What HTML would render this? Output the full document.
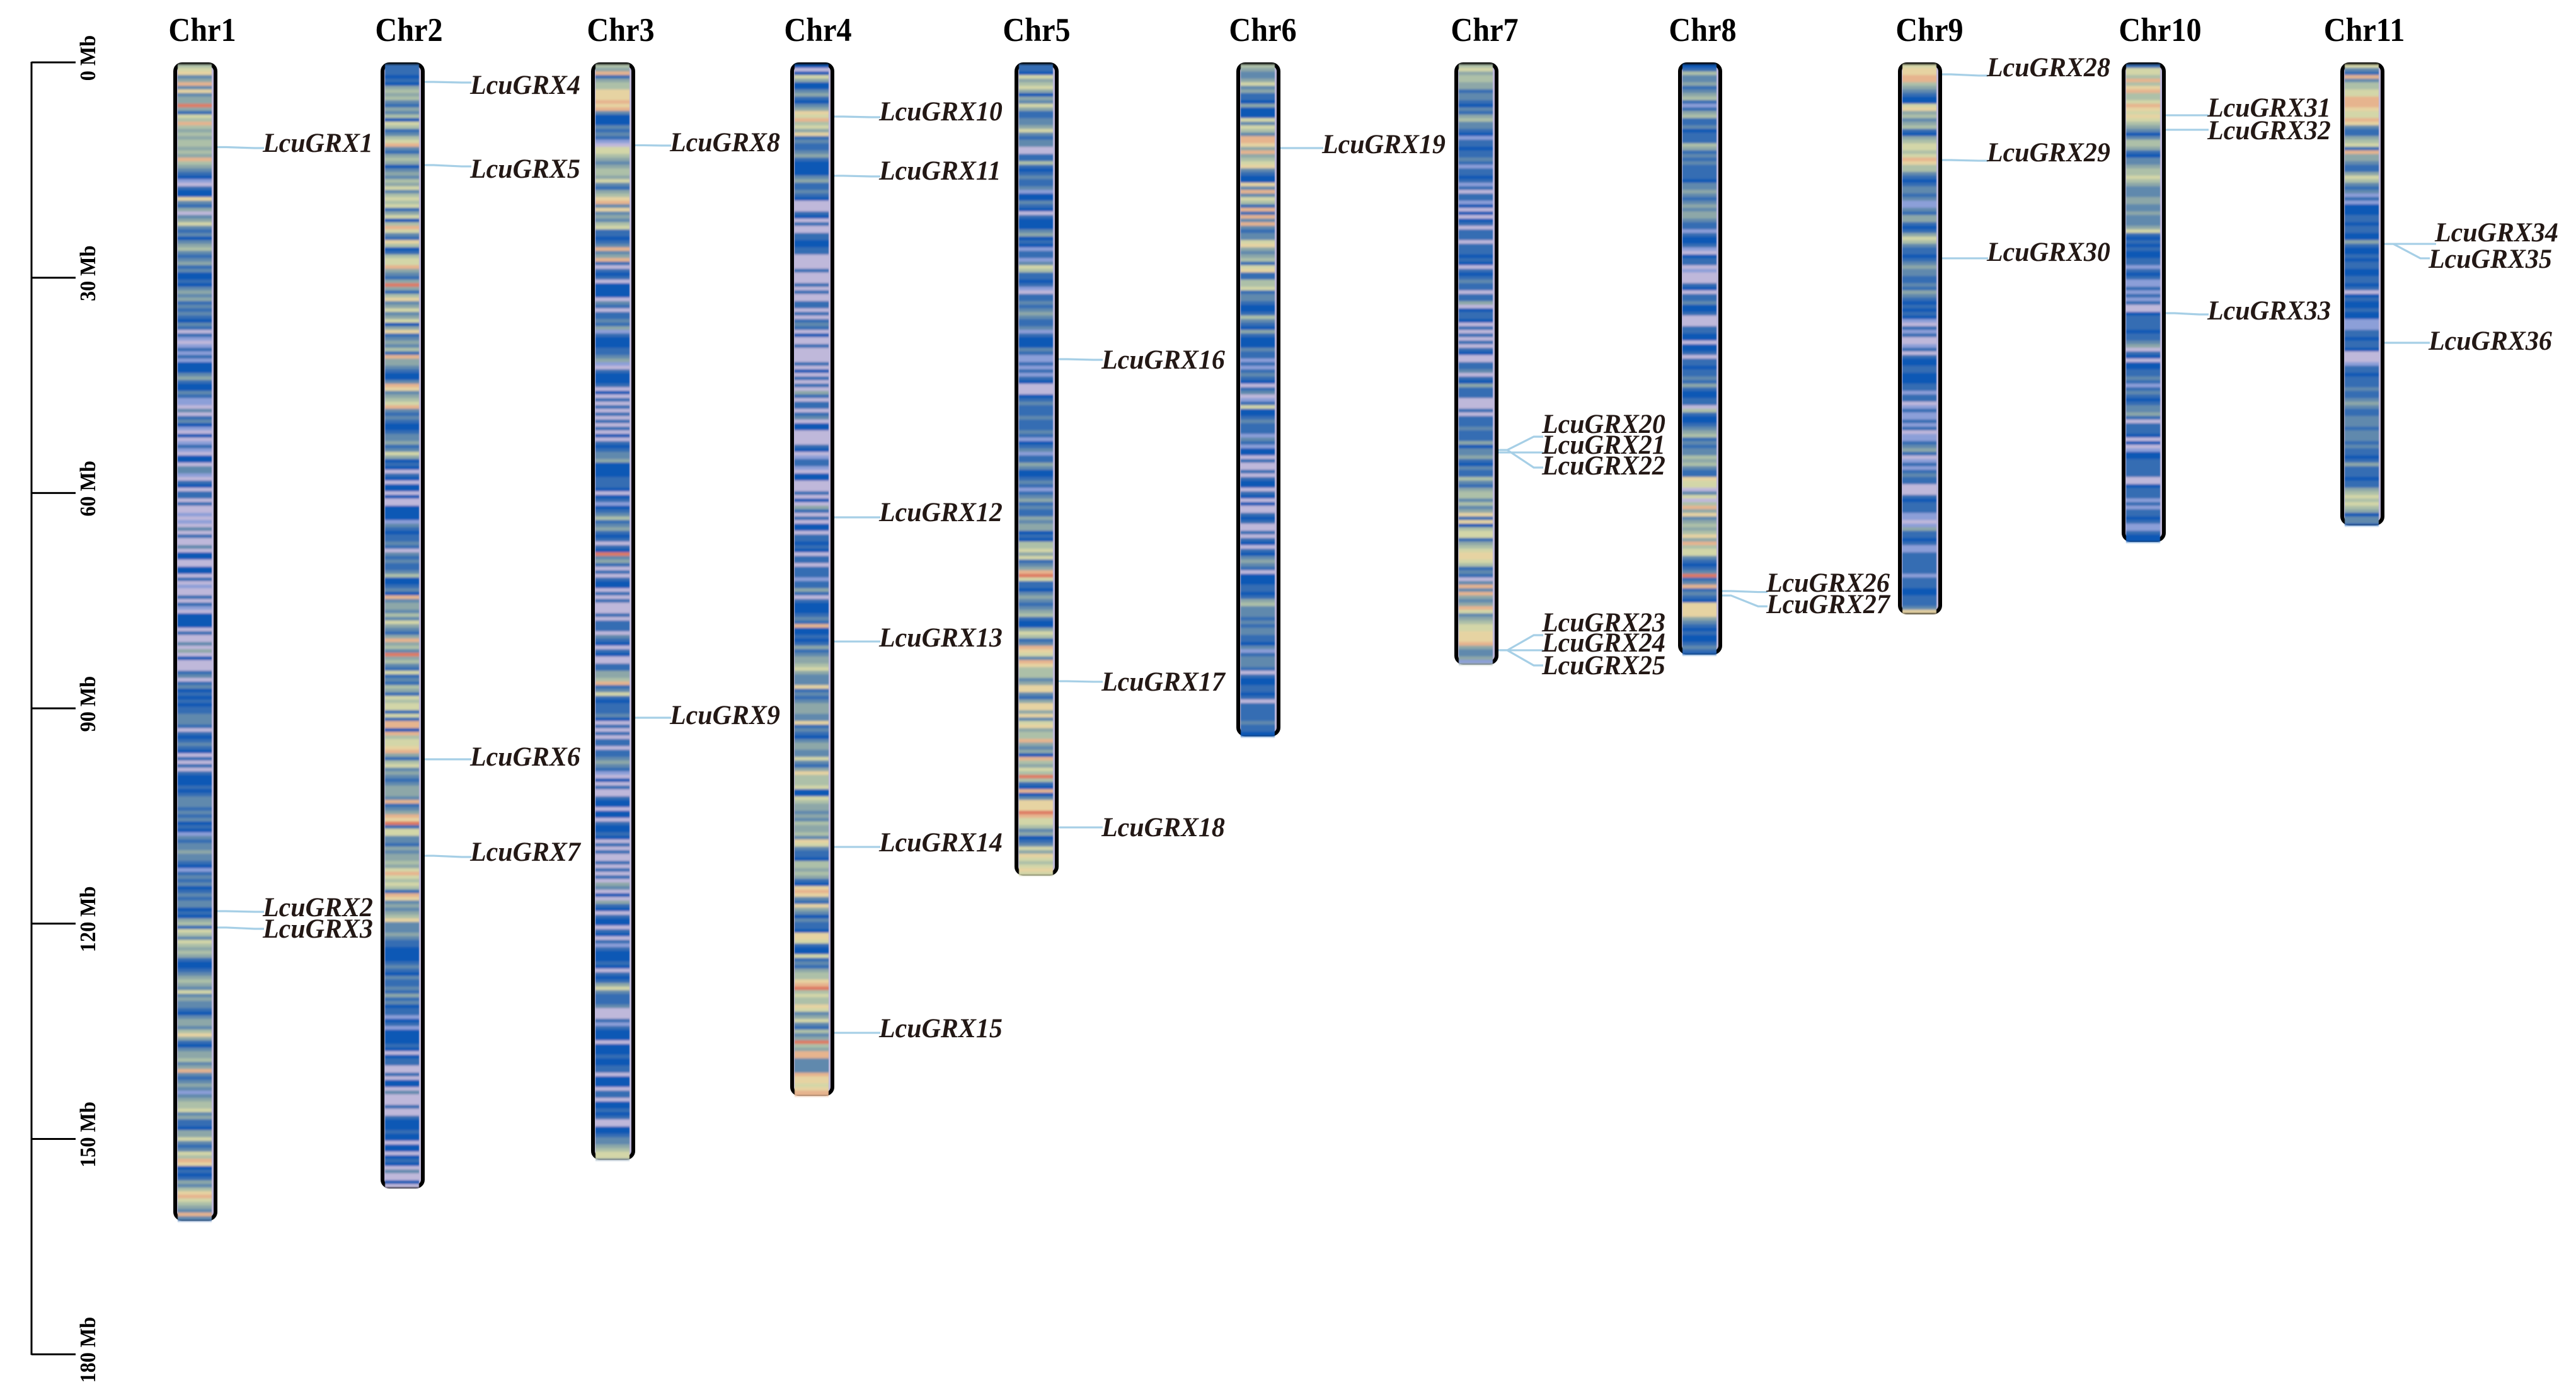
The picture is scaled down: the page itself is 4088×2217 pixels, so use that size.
<!DOCTYPE html>
<html lang="en">
<head>
<meta charset="utf-8">
<title>LcuGRX chromosome map</title>
<style>
html,body{margin:0;padding:0;background:#fff;}
#map{display:block;width:4088px;height:2217px;}
text{font-family:"Liberation Serif",serif;}
.chr-title{font-weight:700;font-size:53px;fill:#000;text-anchor:middle;}
.tick-label{font-weight:700;font-size:35px;fill:#000;text-anchor:middle;}
.gene-label{font-weight:700;font-style:italic;font-size:43.5px;fill:#231815;}
.gene-line{fill:none;stroke:#a6cfe6;stroke-width:3.2;}
</style>
</head>
<body>
<svg id="map" xmlns="http://www.w3.org/2000/svg" width="4088" height="2217" viewBox="0 0 4088 2217">
<defs>
<filter id="soft" x="-2%" y="-1%" width="104%" height="102%"><feGaussianBlur stdDeviation="0.4 1.5"/></filter>
</defs>
</svg>
<script>
// Scale ticks (Mb)
const tickValues = [0, 30, 60, 90, 120, 150, 180];
const tickLabels = ["0 Mb", "30 Mb", "60 Mb", "90 Mb", "120 Mb", "150 Mb", "180 Mb"];

// Chromosomes
const chrNames = ["Chr1","Chr2","Chr3","Chr4","Chr5","Chr6","Chr7","Chr8","Chr9","Chr10","Chr11"];
const chrLengthsMb = [161.4,156.9,152.9,144.0,113.3,93.9,83.9,82.5,76.9,66.8,64.5];

// Density class per 0.5 Mb window (one string = 10 Mb). 0 = none ... a = highest
const densityBinMb = 0.5;
const densityColors = ["#bfb8da","#8c9fd8","#1059b5","#346db3","#6089ad","#8dA7a8","#adc0a8","#d3d6a8","#e6d3a2","#e6b48e","#de7a64"];
const chr1Density = ["67845948455a53769656","56656596543210322843","50457434245643453422","32454534343243031013","13122245322431104034","21020131022044103203","30300101040300402200","22030100303102222030","04050200034034232323","34443032343203030322","23234443434232143445","44321343423434423256","37647656532234565474","54432455468532455645","94345414566745332557","43476982323546897654","943"];
const chr2Density = ["33323256564354627634","67943565245465746767","35726974386236779543","5a536845745725834546","39554322498456794343","22344534752320320220","20022221432334304343","34622342945546475435","9564a564373436537677","37399296778953674543","45554934598a37744354","55657976763984545684","44543322223432433435","34233123122223202330","03022040003003222322","0220232040020"];
const chr3Density = ["65935668889894222434","31077654566574356894","84546733234945930323","02222043033435132223","34510322230203030303","03020323445222233320","2312346345323032a453","03032203030003033304","32032003355693473233","34203030330334543102","03003220220322320303","00303030540205320322","03203132223203235743","33400031322202223223","30222033022323002234","456774"];
const chr4Density = ["20275224532458796758","34334532222453343200","03203003322330000300","03030033030343020030","00030203030530330340","22000032013310220003","02053030220332320330","33313353032223439223","23534556754448343455","54483432455447435866","67227655454655648743","32665653289843854243","32887322734356689a67","668745743645a6599444","49887899"];
const chr5Density = ["33275675254753344574","34400336323433412243","20322245232133147633","23103343454334132224","31131313200023433343","33431234133542234313","45343354552326675734","59a73324543456322576","34987498666458843588","584785669545296576a6","32924888a97764523475","876787"];
const chr6Density = ["65445745332522274764","99859567843228494763","93949434478545637833","66734432236432532224","33131343203401372234","33314312203003032203","20200323003032032454","30222332356444343443","32413444303223323033","33343322"];
const chr7Density = ["67566553443243564432","13323343133231303312","02023033303332320323","43303350233203030303","20033403253330003033","34333524453243364356","64645838267735678876","34304949545974567788","89544516"];
const chr8Density = ["23644534563135633423","33653434333324454345","45543313223102330100","03203342230003322022","30332334353223306322","34563434465643387704","70695845656859677432","34a34934328888543232","23432"];
const chr9Density = ["78899654322785645632","56776798664323443411","43553235764332345443","34354323232103130013","03223322233133013113","13011345301313433000","32333110153323113333","3313332233348"];
const chr10Density = ["37769689667987876542","46653244566765444554","45444573232322331323","11313130023333233450","32022334313432344530","33320201223333300233","31313323113222"];
const chr11Density = ["74394667799987798433","56739554335764341312","22332332253223233223","32302322322111332332","00013323334334543344","43444343323533323356","767652442"];
const chrDensity = [chr1Density,chr2Density,chr3Density,chr4Density,chr5Density,chr6Density,chr7Density,chr8Density,chr9Density,chr10Density,chr11Density];

// Genes: name, chromosome index, locus (Mb), leader end (Mb), label baseline (Mb)
const geneNames = ["LcuGRX1","LcuGRX2","LcuGRX3","LcuGRX4","LcuGRX5","LcuGRX6","LcuGRX7","LcuGRX8","LcuGRX9","LcuGRX10","LcuGRX11","LcuGRX12","LcuGRX13","LcuGRX14","LcuGRX15","LcuGRX16","LcuGRX17","LcuGRX18","LcuGRX19","LcuGRX20","LcuGRX21","LcuGRX22","LcuGRX23","LcuGRX24","LcuGRX25","LcuGRX26","LcuGRX27","LcuGRX28","LcuGRX29","LcuGRX30","LcuGRX31","LcuGRX32","LcuGRX33","LcuGRX34","LcuGRX35","LcuGRX36"];
const geneChr = [0,0,0,1,1,1,1,2,2,3,3,3,3,3,3,4,4,4,5,6,6,6,6,6,6,7,7,8,8,8,9,9,9,10,10,10];
const geneLocusMb = [11.81,118.26,120.54,2.72,14.31,97.10,110.54,11.55,91.31,7.55,15.80,63.39,80.69,109.31,135.21,41.35,86.22,106.59,11.94,54.00,54.35,54.00,81.91,81.91,81.91,73.66,74.28,1.67,13.61,27.30,7.37,9.39,34.94,25.29,25.29,39.07];
const geneEndMb = [11.94,118.35,120.72,2.81,14.49,97.10,110.71,11.59,91.31,7.64,15.89,63.39,80.69,109.31,135.21,41.44,86.30,106.59,11.94,52.15,54.35,56.45,79.81,81.91,84.02,73.80,75.79,1.84,13.70,27.30,7.37,9.39,35.12,25.29,27.30,39.07];
const geneLabelMb = [12.47,118.96,121.95,4.39,16.07,97.98,111.24,12.38,92.19,8.08,16.33,63.92,81.39,109.92,135.83,42.67,87.53,107.81,12.64,51.62,54.52,57.42,79.28,82.09,85.25,73.75,76.73,1.93,13.78,27.66,7.55,10.71,35.82,24.93,28.62,40.04];

// Layout
const NS = "http://www.w3.org/2000/svg";
const svg = document.getElementById("map");
const axisTop = 99, pxPerMb = 11.39, axisX = 50, tickEnd = 120;
const chrW = 70;
const chrLeft = [275,604,938,1254,1610,1962,2308,2663,3012,3367,3714];
const titleCenter = [321,649,985,1298,1645,2004,2356,2702,3062,3428,3752];
const labelGap = [142,142,125,141,138,136,139,140,141,136,140];
const y = mb => axisTop + mb * pxPerMb;

function make(tag, attrs, parent) {
  const el = document.createElementNS(NS, tag);
  for (const k in attrs) el.setAttribute(k, attrs[k]);
  (parent || svg).appendChild(el);
  return el;
}

// Scale bar
const scaleGroup = make("g", {});


const scaleLine = make("line", {x1:axisX, x2:axisX, y1:y(0)-1, y2:y(180)+1, stroke:"#000", "stroke-width":3}, scaleGroup);


tickValues.forEach((v, i) => {
  const t = make("line", {x1:axisX, x2:tickEnd, y1:y(v), y2:y(v), stroke:"#000", "stroke-width":3}, scaleGroup);
  
  
  const py = y(v) - 7;
  const l = make("text", {class:"tick-label", x:0, y:0, transform:"translate(151 " + py + ") rotate(-90) scale(0.92 1)"}, scaleGroup);
  l.textContent = tickLabels[i];
  
  
});

// Chromosomes
chrNames.forEach((name, c) => {
  const g = make("g", {});
  
  
  const x = chrLeft[c], top = y(0), bottom = y(chrLengthsMb[c]);
  const title = make("text", {class:"chr-title", x:0, y:0, transform:"translate(" + titleCenter[c] + " 65) scale(0.91 1)"}, g);
  title.textContent = name;
  
  
  const body = make("rect", {x:x+3, y:top+3, width:chrW-6, height:bottom-top-6, rx:11, ry:11, fill:densityColors[0], stroke:"#000", "stroke-width":6}, g);
  
  
  const bands = make("g", {filter:"url(#soft)"}, g);
  
  
  const cells = chrDensity[c].join("");
  const maxMb = chrLengthsMb[c];
  for (let i = 0; i < cells.length; i++) {
    const v = parseInt(cells[i], 16);
    const startMb = i * densityBinMb;
    if (startMb >= maxMb) break;
    const endMb = Math.min(startMb + densityBinMb, maxMb);
    const y0 = y(startMb) + 3;
    const y1 = Math.min(y(endMb) + 3, bottom);
    if (y1 <= y0) continue;
    const r = make("rect", {x:x+7, y:y0, width:54, height:y1-y0+0.4, fill:densityColors[v]}, bands);
    
    
  }
});

// Genes
geneNames.forEach((name, i) => {
  const c = geneChr[i];
  const right = chrLeft[c] + chrW;
  let lx = chrLeft[c] + labelGap[c];
  if (name === "LcuGRX34") lx += 10;
  const g = make("g", {});
  
  
  const ys = y(geneLocusMb[i]), ye = y(geneEndMb[i]);
  const d = "M" + right + " " + ys + "L" + (right+14) + " " + ys + "L" + (lx-13) + " " + ye + "L" + (lx+2) + " " + ye;
  const p = make("path", {class:"gene-line", d:d}, g);
  
  
  const t = make("text", {class:"gene-label", x:0, y:0, transform:"translate(" + lx + " " + y(geneLabelMb[i]) + ") scale(0.965 1)"}, g);
  t.textContent = name;
  
  
});
</script>
</body>
</html>
